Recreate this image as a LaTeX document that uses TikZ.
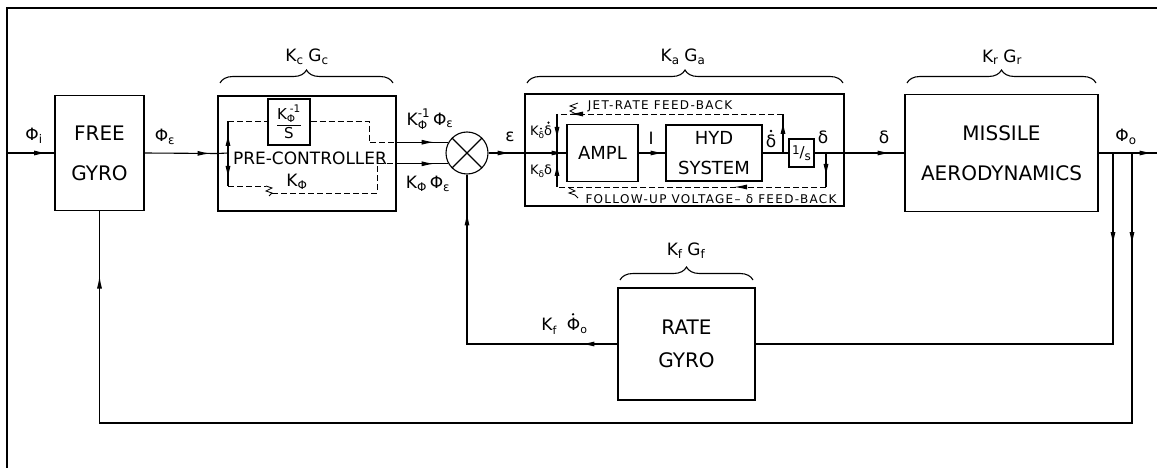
\documentclass[tikz,border=0pt]{standalone}
\usepackage{amsmath}
\usepackage{fontspec}
\setmainfont{DejaVu Sans}
\newfontfamily\notefont[LetterSpace=11]{DejaVu Sans}
\usetikzlibrary{arrows.meta,decorations.markings,decorations.pathreplacing}
\newcommand\sy[1]{\text{#1}}

\begin{document}
\begin{tikzpicture}[
    x=1pt, y=-1pt,
    line width=1.1pt,
    block/.style={draw, align=center, inner sep=0pt, font=\fontsize{20}{40}\selectfont},
    lbl/.style={inner sep=0pt, font=\fontsize{17}{17}\selectfont},
    note/.style={inner sep=0pt, font=\notefont\fontsize{12}{12}\selectfont},
    feed/.style={dash pattern=on 6pt off 3pt, line width=0.9pt},
    squig/.style={line width=0.8pt},
    arr at/.style={postaction={decorate, decoration={markings,
        mark=at position #1 with {\arrow{Latex[length=13pt,width=5pt]}}}}},
    kbrace/.style={decorate, decoration={brace, amplitude=13pt}},
  ]
  \useasboundingbox (0,0) rectangle (1157,468);
  % frame
  \draw (7,468) -- (7,8) -- (1157,8);

  % blocks
  \node[block, minimum width=89pt, minimum height=115pt] (fg) at (99.5,153) {FREE\\GYRO};
  \node[draw, minimum width=178pt, minimum height=115pt] (pc) at (307,153.5) {};
  \node[inner sep=0pt, font=\fontsize{17}{17}\selectfont] (pctxt) at (310,158) {PRE-CONTROLLER};
  \node[draw, minimum width=42pt, minimum height=46pt, inner sep=0pt,
        font=\fontsize{15}{15}\selectfont] (kint) at (289,122)
        {$\dfrac{\sy{K}_{\sy{Φ}}^{\;\sy{-1}}}{\sy{S}}$};
  \node[lbl] (kphi) at (297,182) {$\sy{K}_{\sy{Φ}}$};
  \node[circle, draw, minimum size=42pt, inner sep=0pt] (sum) at (467,153) {};
  \node[draw, minimum width=319pt, minimum height=112pt] (act) at (684.5,150) {};
  \node[block, font=\fontsize{18}{30}\selectfont, minimum width=71pt, minimum height=57pt] (ampl) at (602.5,153) {AMPL};
  \node[block, font=\fontsize{18}{30}\selectfont, minimum width=96pt, minimum height=56pt] (hyd) at (714,153) {HYD\\SYSTEM};
  \node[draw, minimum width=25pt, minimum height=28pt, inner sep=0pt,
        font=\fontsize{15}{15}\selectfont] (integ) at (801.5,153)
        {\raisebox{.45ex}{\fontsize{12}{12}\selectfont 1}/\raisebox{-.35ex}{\fontsize{12}{12}\selectfont s}};
  \node[block, minimum width=193pt, minimum height=117pt] (mis) at (1001.5,153) {MISSILE\\AERODYNAMICS};
  \node[block, font=\fontsize{20}{33}\selectfont, minimum width=137pt, minimum height=112pt] (rg) at (686.5,344) {RATE\\GYRO};

  % summing junction cross
  \draw (sum.north west) -- (sum.south east) (sum.north east) -- (sum.south west);

  % forward path
  \coordinate (in) at (7,153);
  \coordinate (out) at (1157,153);
  \draw[arr at=40pt] (in) -- (fg.west);
  \draw[arr at=66pt] (fg.east) -- (pc.west);

  % pre-controller inner paths
  \coordinate (split) at (228,153);
  \coordinate (su) at (228,121);
  \coordinate (sd) at (228,186);
  \coordinate (ur) at (369,121);
  \coordinate (lz) at (266,186);
  \coordinate (lr) at (377,193);
  \coordinate (pcu) at (pc.east |- sum.150);
  \coordinate (pcl) at (pc.east |- sum.210);
  \draw (pc.west) -- (split);
  \draw[arr at=20pt] (split) -- (su);
  \draw[arr at=26pt] (split) -- (sd);
  \draw[feed] (su) -- (su -| kint.west);
  \draw[feed] (su -| kint.east) -- (ur) -- (ur |- pcu) -- (pcu);
  \draw[feed] (sd) -- (lz);
  \draw[squig] (lz) -- ++(6,2) -- ++(-6,3) -- ++(6,2) -- ++(-3,3);
  \draw[feed] (lz) ++(6,7) -- (lr) -- (lr |- pcl) -- (pcl);
  \draw[arr at=38pt] (pcu) -- (sum.150);
  \draw[arr at=38pt] (pcl) -- (sum.210);

  % actuator inner paths
  \coordinate (jn) at (557,153);
  \coordinate (jt) at (557,114);
  \coordinate (jb) at (557,187);
  \coordinate (rt) at (783,114);
  \coordinate (rb) at (783,153);
  \coordinate (ft) at (826,153);
  \coordinate (fb) at (826,187);
  \draw[arr at=22pt, arr at=76pt] (sum.east) -- (ampl.west);
  \draw[arr at=32pt] (rb) -- (rt);
  \draw[feed, arr at=213pt] (rt) -- (jt);
  \draw[arr at=26pt] (jt) -- (jn);
  \draw[arr at=24pt] (ft) -- (fb);
  \draw[feed, arr at=92pt] (fb) -- (jb);
  \draw[arr at=24pt] (jb) -- (jn);
  \draw[squig] (578,103) -- ++(-8,3) -- ++(6,2) -- ++(-6,3) -- ++(6,3);
  \draw[squig] (569,188) -- ++(6,3) -- ++(-6,2) -- ++(6,2) -- ++(3,3);
  \draw[arr at=25pt] (ampl.east) -- (hyd.west);
  \draw (hyd.east) -- (integ.west);
  \draw[arr at=76pt] (integ.east) -- (mis.west);
  \draw[arr at=54pt] (mis.east) -- (out);

  % feedback paths
  \coordinate (t1) at (1113,153);
  \coordinate (t1b) at (1113,344);
  \coordinate (t2) at (1132,153);
  \coordinate (t2b) at (1132,423);
  \coordinate (t2c) at (fg.south |- t2b);
  \coordinate (fbk) at (sum |- rg.west);
  \draw[arr at=92pt] (t1) -- (t1b) -- (rg.east);
  \draw[arr at=92pt, arr at=1450pt] (t2) -- (t2b) -- (t2c) -- (fg.south);
  \draw[arr at=36pt, arr at=282pt] (rg.west) -- (fbk) -- (sum.south);

  % braces
  \draw[kbrace] (220,83) -- (393,83);
  \draw[kbrace] (527,83) -- (843,83);
  \draw[kbrace] (907,83) -- (1096,83);
  \draw[kbrace] (620,280) -- (753,280);
  \node[lbl] (kc) at (307,57) {$\sy{K}_{\sy{c}}\;\sy{G}_{\sy{c}}$};
  \node[lbl] (ka) at (683,57) {$\sy{K}_{\sy{a}}\;\sy{G}_{\sy{a}}$};
  \node[lbl] (kr) at (1002,57) {$\sy{K}_{\sy{r}}\;\sy{G}_{\sy{r}}$};
  \node[lbl] (kf) at (686,251) {$\sy{K}_{\sy{f}}\;\sy{G}_{\sy{f}}$};

  % signal labels
  \node[lbl] at (34,136) {$\sy{Φ}_{\sy{i}}$};
  \node[lbl] at (165,137) {$\sy{Φ}_{\sy{ε}}$};
  \node[lbl] at (430,119) {$\sy{K}_{\sy{Φ}}^{\sy{-1}}\,\sy{Φ}_{\sy{ε}}$};
  \node[lbl] at (428,184) {$\sy{K}_{\sy{Φ}}\,\sy{Φ}_{\sy{ε}}$};
  \node[lbl] at (510,137) {ε};
  \node[lbl, font=\fontsize{13}{13}\selectfont] (kdd) at (541,132) {K\raisebox{-.4ex}{\fontsize{9}{9}\selectfont δ}δ};
  \node[lbl, font=\fontsize{13}{13}\selectfont] (kd) at (541,171) {K\raisebox{-.4ex}{\fontsize{9}{9}\selectfont δ}δ};
  \node[lbl] (icur) at (651,138) {I};
  \node[lbl] (ddot) at (771,141) {δ};
  \node[lbl] (dout) at (823,137) {δ};
  \node[lbl] (dmis) at (884,137) {δ};
  \node[lbl] (phio) at (1126,137) {$\sy{Φ}_{\sy{o}}$};
  \node[lbl] (kfl) at (549,326) {K\raisebox{-.4ex}{\fontsize{11}{11}\selectfont f}};
  \node[lbl] (kfphi) at (577,326) {Φ\raisebox{-.4ex}{\fontsize{11}{11}\selectfont o}};
  \node[note] (jet) at (660,106) {JET-RATE FEED-BACK};
  \node[note] (fol) at (711,199) {FOLLOW-UP VOLTAGE– δ FEED-BACK};
  % rate dots
  \fill ([shift={(-4,-2.5)}]kdd.north east) circle (1.2pt);
  \fill ([shift={(11.5,3.5)}]kdd.north west) circle (1pt);
  \fill ([shift={(0,-3)}]ddot.north) circle (1.3pt);
  \fill ([shift={(6.7,-3)}]kfphi.north west) circle (1.3pt);
\end{tikzpicture}
\end{document}
